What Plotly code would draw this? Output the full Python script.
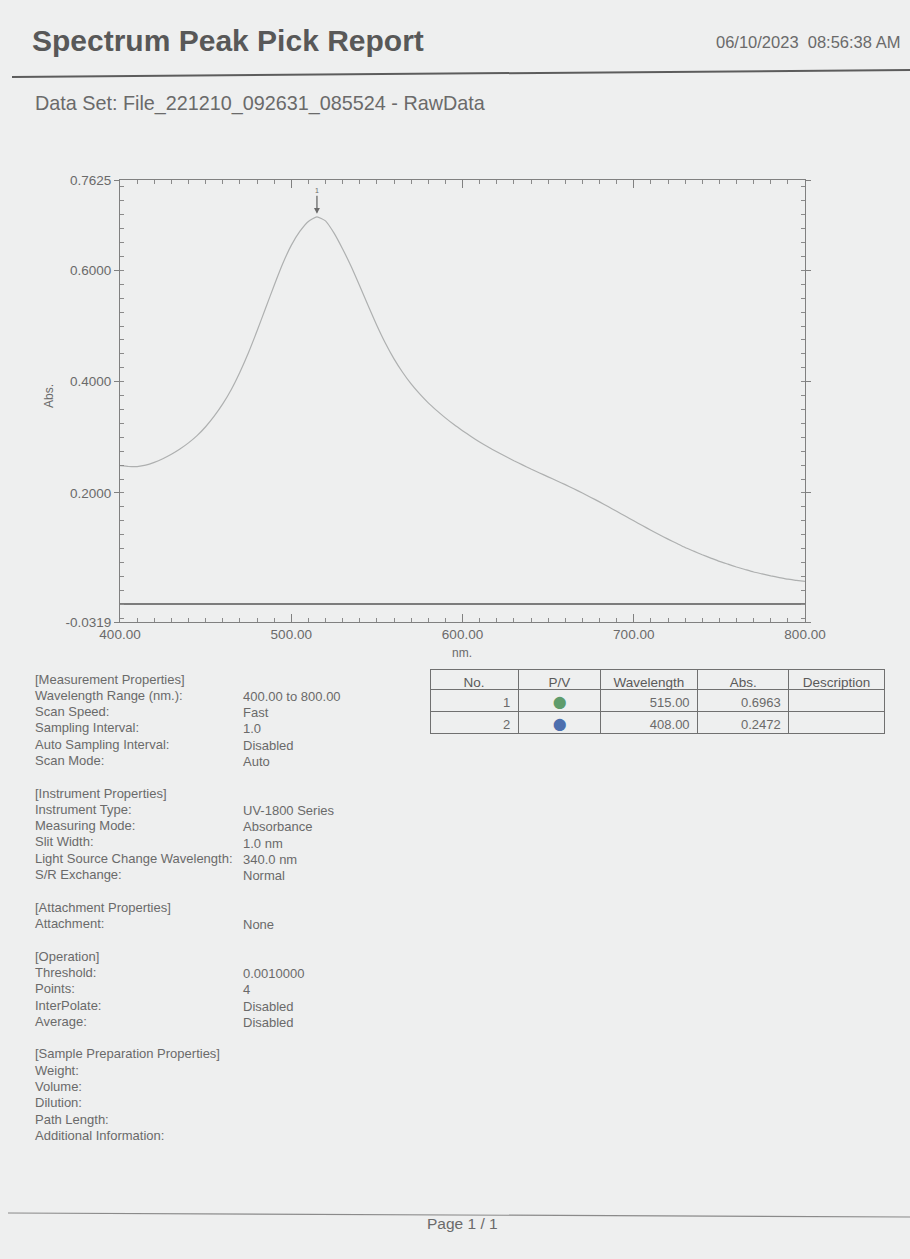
import plotly.graph_objects as go

# ---- spectrum (wavelength in nm, absorbance) ----
wavelength = [400, 405, 408, 410, 415, 420, 425, 430, 435, 440, 445, 450,
              455, 460, 465, 470, 475, 480, 485, 490, 495, 500, 505, 510,
              515, 520, 525, 530, 535, 540, 545, 550, 555, 560, 565, 570,
              575, 580, 585, 590, 595, 600, 605, 610, 615, 620, 625, 630,
              635, 640, 645, 650, 655, 660, 665, 670, 675, 680, 685, 690,
              695, 700, 705, 710, 715, 720, 725, 730, 735, 740, 745, 750,
              755, 760, 765, 770, 775, 780, 785, 790, 795, 800]
absorbance = [0.2490, 0.2476, 0.2472, 0.2474, 0.2500, 0.2550, 0.2615, 0.2695,
              0.2790, 0.2900, 0.3030, 0.3190, 0.3380, 0.3600, 0.3860, 0.4170,
              0.4520, 0.4910, 0.5320, 0.5730, 0.6120, 0.6450, 0.6700, 0.6880,
              0.6963, 0.6890, 0.6670, 0.6385, 0.6070, 0.5720, 0.5360, 0.5010,
              0.4690, 0.4410, 0.4170, 0.3960, 0.3780, 0.3620, 0.3480, 0.3350,
              0.3230, 0.3120, 0.3015, 0.2915, 0.2825, 0.2740, 0.2660, 0.2580,
              0.2505, 0.2430, 0.2360, 0.2290, 0.2220, 0.2150, 0.2075, 0.2000,
              0.1920, 0.1840, 0.1755, 0.1670, 0.1585, 0.1500, 0.1415, 0.1330,
              0.1250, 0.1170, 0.1095, 0.1020, 0.0955, 0.0890, 0.0830, 0.0770,
              0.0720, 0.0670, 0.0625, 0.0580, 0.0545, 0.0510, 0.0480, 0.0450,
              0.0430, 0.0410]

# ---- peak / valley table ----
peak_no = [1, 2]
peak_kind = ["P", "V"]
peak_wl = [515.00, 408.00]
peak_abs = [0.6963, 0.2472]
peak_desc = ["", ""]

# ---- axes ----
y_min, y_max = -0.0319, 0.7625
y_ticks = [-0.0319, 0.2, 0.4, 0.6, 0.7625]
x_ticks = [400, 500, 600, 700, 800]

# ---- report header / properties ----
report_title = "Spectrum Peak Pick Report"
report_stamp = "06/10/2023  08:56:38 AM"
data_set = "Data Set: File_221210_092631_085524 - RawData"
properties = [
    ("[Measurement Properties]", ""),
    ("Wavelength Range (nm.):", "400.00 to 800.00"),
    ("Scan Speed:", "Fast"),
    ("Sampling Interval:", "1.0"),
    ("Auto Sampling Interval:", "Disabled"),
    ("Scan Mode:", "Auto"),
    None,
    ("[Instrument Properties]", ""),
    ("Instrument Type:", "UV-1800 Series"),
    ("Measuring Mode:", "Absorbance"),
    ("Slit Width:", "1.0 nm"),
    ("Light Source Change Wavelength:", "340.0 nm"),
    ("S/R Exchange:", "Normal"),
    None,
    ("[Attachment Properties]", ""),
    ("Attachment:", "None"),
    None,
    ("[Operation]", ""),
    ("Threshold:", "0.0010000"),
    ("Points:", "4"),
    ("InterPolate:", "Disabled"),
    ("Average:", "Disabled"),
    None,
    ("[Sample Preparation Properties]", ""),
    ("Weight:", ""),
    ("Volume:", ""),
    ("Dilution:", ""),
    ("Path Length:", ""),
    ("Additional Information:", ""),
]
page_label = "Page 1 / 1"

W, H = 910, 1259
FONT = "Liberation Sans, Arial, sans-serif"
INK = "#6a6a6a"
PAPER = "#eeefef"


def fx(x):
    return x / W


def fy(y):
    return 1 - y / H


fig = go.Figure()

fig.add_trace(go.Scatter(
    x=wavelength, y=absorbance, mode="lines",
    line=dict(color="#aeb0b0", width=1.2, shape="spline", smoothing=0.5),
    hoverinfo="skip", showlegend=False,
))

# peak/valley table
kind_color = {"P": "#5f9c6c", "V": "#4d6fae"}
n_rows = len(peak_no)
fig.add_trace(go.Table(
    domain=dict(x=[fx(430), fx(884)], y=[0, fy(669)]),
    columnwidth=[88, 82, 97, 91, 95],
    header=dict(
        values=["No.", "P/V", "Wavelength", "Abs.", "Description"],
        align="center", height=20,
        fill=dict(color=PAPER), line=dict(color="#707070", width=1),
        font=dict(family=FONT, size=13.5, color="#5a5a5a"),
    ),
    cells=dict(
        values=[[str(n) for n in peak_no],
                ["\u2B24" for _ in peak_kind],
                [f"{w:.2f}" for w in peak_wl],
                [f"{a:.4f}" for a in peak_abs],
                peak_desc],
        align=["right", "center", "right", "right", "left"],
        height=22,
        fill=dict(color=PAPER), line=dict(color="#707070", width=1),
        font=dict(
            family=FONT,
            size=[13, 12, 13, 13, 13],
            color=[[INK] * n_rows,
                   [kind_color[k] for k in peak_kind],
                   [INK] * n_rows, [INK] * n_rows, [INK] * n_rows],
        ),
    ),
))

annotations = []
shapes = []

# header
annotations.append(dict(
    x=fx(30), y=fy(40), xref="paper", yref="paper", xanchor="left",
    yanchor="middle", showarrow=False, text=f"<b>{report_title}</b>",
    font=dict(family=FONT, size=30, color="#585858")))
annotations.append(dict(
    x=fx(902), y=fy(42), xref="paper", yref="paper", xanchor="right",
    yanchor="middle", showarrow=False, text=report_stamp,
    font=dict(family=FONT, size=16.5, color=INK)))
annotations.append(dict(
    x=fx(33), y=fy(103), xref="paper", yref="paper", xanchor="left",
    yanchor="middle", showarrow=False, text=data_set,
    font=dict(family=FONT, size=19.8, color=INK)))
shapes.append(dict(type="line", xref="paper", yref="paper",
                   x0=fx(12), y0=fy(77), x1=1, y1=fy(70),
                   line=dict(color="#5c5c5c", width=2)))

# axis titles
annotations.append(dict(
    x=fx(40), y=fy(382), xref="paper", yref="paper", showarrow=False,
    text="Abs.", textangle=-90, font=dict(family=FONT, size=12, color=INK)))
annotations.append(dict(
    x=fx(462), y=fy(653), xref="paper", yref="paper", showarrow=False,
    text="nm.", font=dict(family=FONT, size=12, color=INK)))

# peak marker
annotations.append(dict(
    x=peak_wl[0], y=peak_abs[0], xref="x", yref="y", showarrow=True,
    ax=0, ay=-26, text="1", standoff=3,
    arrowhead=2, arrowsize=0.9, arrowwidth=1.3, arrowcolor="#6a6a6a",
    font=dict(family=FONT, size=7, color="#6a6a6a")))

# measurement properties listing
y0, step = 679, 16.3
for i, entry in enumerate(properties):
    if entry is None:
        continue
    label, value = entry
    yy = y0 + i * step
    annotations.append(dict(
        x=fx(33), y=fy(yy), xref="paper", yref="paper", xanchor="left",
        yanchor="middle", showarrow=False, text=label,
        font=dict(family=FONT, size=13, color=INK)))
    if value:
        annotations.append(dict(
            x=fx(241), y=fy(yy + 1), xref="paper", yref="paper",
            xanchor="left", yanchor="middle", showarrow=False, text=value,
            font=dict(family=FONT, size=13, color=INK)))

# footer
shapes.append(dict(type="line", xref="paper", yref="paper",
                   x0=fx(8), y0=fy(1213), x1=1, y1=fy(1217),
                   line=dict(color="#8a8a8a", width=1.2)))
annotations.append(dict(
    x=fx(462), y=fy(1234), xref="paper", yref="paper", showarrow=False,
    text=page_label, font=dict(family=FONT, size=15.5, color=INK)))

axis_common = dict(
    showline=True, linecolor="#808080", linewidth=1.2, mirror="ticks",
    showgrid=False, tickcolor="#808080", automargin=False,
    tickfont=dict(family=FONT, size=13.5, color=INK),
)

fig.update_layout(
    width=W, height=H,
    margin=dict(l=0, r=0, t=0, b=0),
    paper_bgcolor=PAPER, plot_bgcolor="rgba(0,0,0,0)",
    font=dict(family=FONT, color=INK),
    showlegend=False,
    xaxis=dict(
        domain=[fx(120), fx(805)], range=[400, 800],
        tickmode="array", tickvals=x_ticks,
        ticktext=[f"{v:.2f}" for v in x_ticks],
        ticks="inside", ticklen=8, tickwidth=1,
        minor=dict(tickmode="linear", tick0=400, dtick=10, ticks="inside",
                   ticklen=4, tickcolor="#8a8a8a"),
        zeroline=False, **axis_common,
    ),
    yaxis=dict(
        domain=[fy(622), fy(180)], range=[y_min, y_max],
        tickmode="array", tickvals=y_ticks,
        ticktext=[f"{v:.4f}" for v in y_ticks],
        ticks="outside", ticklen=5, tickwidth=1,
        minor=dict(tickmode="linear", tick0=0, dtick=0.025, ticks="inside",
                   ticklen=4, tickcolor="#8a8a8a"),
        zeroline=True, zerolinecolor="#7c7c7c", zerolinewidth=1.6,
        **axis_common,
    ),
    annotations=annotations,
    shapes=shapes,
)

fig.write_html("out.html")
